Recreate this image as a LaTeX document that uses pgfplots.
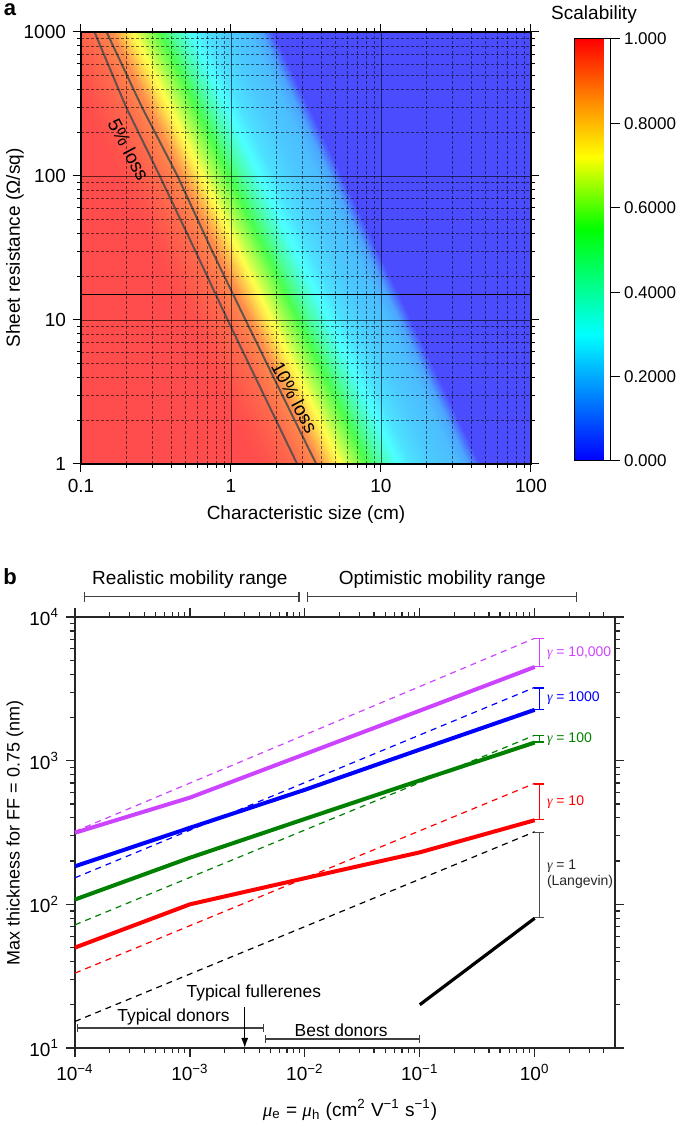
\documentclass[border=0pt]{standalone}
\usepackage{fontspec}
\setmainfont{Liberation Sans}
\newfontfamily\gfont{Liberation Serif}
\usepackage{pgfplots}
\pgfplotsset{compat=1.18}
\usetikzlibrary{arrows.meta}
\definecolor{mag}{RGB}{204,68,255}
\definecolor{myblue}{RGB}{0,0,255}
\definecolor{mygreen}{RGB}{0,128,0}
\definecolor{myred}{RGB}{255,0,0}
\newcommand\fa{\fontsize{9.5}{11}\selectfont}
\newcommand\fc{\fontsize{8.5}{10}\selectfont}
\newcommand\fb{\fontsize{9}{10.5}\selectfont}
\newcommand\fs{\fontsize{7}{8}\selectfont}
\begin{document}
\begin{tikzpicture}[x=1pt,y=1pt]
\path[use as bounding box] (0,0) rectangle (342.5,561);
% ---------------- panel a ----------------
\begin{axis}[
  at={(40.5pt,329pt)}, anchor=south west,
  scale only axis, width=225pt, height=216pt,
  xmode=log, ymode=log,
  xmin=0.1, xmax=100, ymin=1, ymax=1000,
  xtick={0.1,1,10,100}, xticklabels={0.1,1,10,100},
  ytick={1,10,100,1000}, yticklabels={1,10,100,1000},
  minor xtick={0.2,0.3,0.4,0.5,0.6,0.7,0.8,0.9,2,3,4,5,6,7,8,9,20,30,40,50,60,70,80,90},
  minor ytick={2,3,4,5,6,7,8,9,20,30,40,50,60,70,80,90,200,300,400,500,600,700,800,900},
  grid=both,
  major grid style={black, opacity=0.6, line width=0.45pt},
  minor grid style={black, opacity=0.55, line width=0.4pt, dash pattern=on 1.5pt off 1pt},
  axis on top,
  tick align=outside, major tick length=4pt, minor tick length=2pt,
  axis line style={line width=0.6pt},
  tick style={line width=0.5pt, black},
  tick label style={font=\fa},
  colormap={scal}{rgb255(0cm)=(0,0,255) rgb255(3cm)=(0,255,255) rgb255(5.5cm)=(0,255,0) rgb255(7.2cm)=(255,255,0) rgb255(8.5cm)=(255,140,0) rgb255(10cm)=(255,0,0)},
  point meta min=0, point meta max=1,
  colorbar,
  colorbar shift/.style={},
  colorbar style={
    at={(parent axis.south east)}, anchor=south west, xshift=22pt, yshift=1.5pt,
    scale only axis, width=18pt, height=211pt,
    ytick={0,0.2,0.4,0.6,0.8,1},
    yticklabels={0.000,0.2000,0.4000,0.6000,0.8000,1.000},
    yticklabel style={font=\fc, xshift=-1.5pt},
    ytick pos=right, yticklabel pos=right,
    tick align=outside, major tick length=4.5pt,
    tick style={line width=0.5pt, black},
    axis line style={line width=0.5pt},
  },
]
\addplot[surf, shader=interp, opacity=0.7, mesh/cols=17, mesh/rows=4,
  point meta=\thisrow{S}] table[x=L, y=R] {
L R S
0.1 1 1
1.413 1 1
1.778 1 0.99
2.780 1 0.95
3.864 1 0.90
4.467 1 0.82
5.012 1 0.75
6.310 1 0.65
8.035 1 0.55
10.0 1 0.42
12.59 1 0.31
15.85 1 0.25
22.39 1 0.21
31.62 1 0.19
38.02 1 0.15
45.71 1 0
2512 1 0
0.03467 10 1
0.4899 10 1
0.6165 10 0.99
0.9639 10 0.95
1.340 10 0.90
1.549 10 0.82
1.738 10 0.75
2.188 10 0.65
2.786 10 0.55
3.467 10 0.42
4.365 10 0.31
5.496 10 0.25
7.763 10 0.21
10.96 10 0.19
13.18 10 0.15
15.85 10 0
871.0 10 0
0.01202 100 1
0.1699 100 1
0.2138 100 0.99
0.3342 100 0.95
0.4646 100 0.90
0.5371 100 0.82
0.6026 100 0.75
0.7587 100 0.65
0.9660 100 0.55
1.202 100 0.42
1.514 100 0.31
1.906 100 0.25
2.692 100 0.21
3.802 100 0.19
4.571 100 0.15
5.496 100 0
302.0 100 0
0.004169 1000 1
0.0589 1000 1
0.07412 1000 0.99
0.1159 1000 0.95
0.1611 1000 0.90
0.1862 1000 0.82
0.2089 1000 0.75
0.2630 1000 0.65
0.3350 1000 0.55
0.4169 1000 0.42
0.5248 1000 0.31
0.6607 1000 0.25
0.9334 1000 0.21
1.318 1000 0.19
1.585 1000 0.15
1.906 1000 0
104.7 1000 0
};
\addplot[black, line width=0.7pt] coordinates {(0.1,15) (100,15)};
\addplot[black!70, line width=1pt, opacity=0.85] coordinates {(2.76,1) (1.66,3) (0.95,10) (0.58,30) (0.335,100) (0.2,300) (0.123,1000)};
\addplot[black!70, line width=1pt, opacity=0.85] coordinates {(3.7,1) (2.2,3) (1.25,10) (0.75,30) (0.44,100) (0.255,300) (0.148,1000)};
\node[font=\fa, rotate=-62] at (axis cs:0.208,152) {5\% loss};
\node[font=\fa, rotate=-62] at (axis cs:2.66,2.9) {10\% loss};
\end{axis}
\node[font=\fontsize{11}{12}\selectfont\bfseries] at (5,556) {a};
\node[font=\fa] at (297,553.5) {Scalability};
\node[font=\fa] at (153,303.5) {Characteristic size (cm)};
\node[font=\fa, rotate=90] at (7.5,437) {Sheet resistance (Ω/sq)};
% ---------------- panel b ----------------
\begin{axis}[
  at={(37.5pt,37pt)}, anchor=south west,
  scale only axis, width=270pt, height=215.5pt,
  xmode=log, ymode=log,
  xmin=0.0001, xmax=5, ymin=10, ymax=10000,
  xtick={0.0001,0.001,0.01,0.1,1},
  xticklabels={10\textsuperscript{−4},10\textsuperscript{−3},10\textsuperscript{−2},10\textsuperscript{−1},10\textsuperscript{0}},
  ytick={10,100,1000,10000},
  yticklabels={10\textsuperscript{1},10\textsuperscript{2},10\textsuperscript{3},10\textsuperscript{4}},
  minor xtick={0.0002,0.0003,0.0004,0.0005,0.0006,0.0007,0.0008,0.0009,0.002,0.003,0.004,0.005,0.006,0.007,0.008,0.009,0.02,0.03,0.04,0.05,0.06,0.07,0.08,0.09,0.2,0.3,0.4,0.5,0.6,0.7,0.8,0.9,2,3,4},
  minor ytick={20,30,40,50,60,70,80,90,200,300,400,500,600,700,800,900,2000,3000,4000,5000,6000,7000,8000,9000},
  tick align=outside, major tick length=4.5pt, minor tick length=2.5pt,
  axis line style={line width=0.8pt, black!85},
  tick style={line width=0.6pt, black!85},
  tick label style={font=\fa},
  clip=false,
]
% dashed lines
\addplot[mag, line width=0.6pt, dash pattern=on 3pt off 2.5pt] coordinates {(0.0001,322) (1,7110)};
\addplot[myblue, line width=0.6pt, dash pattern=on 3pt off 2.5pt] coordinates {(0.0001,153) (1,3236)};
\addplot[mygreen, line width=0.6pt, dash pattern=on 3pt off 2.5pt] coordinates {(0.0001,72) (1,1503)};
\addplot[myred, line width=0.6pt, dash pattern=on 3pt off 2.5pt] coordinates {(0.0001,33.2) (1,695)};
\addplot[black, line width=0.6pt, dash pattern=on 3pt off 2.5pt] coordinates {(0.0001,15.3) (1,320)};
% solid lines
\addplot[mag, line width=2pt] coordinates {(0.0001,315) (0.001,553) (0.01,1110) (0.1,2228) (1,4487)};
\addplot[myblue, line width=2pt] coordinates {(0.0001,184) (0.001,341) (0.01,627) (0.1,1194) (1,2259)};
\addplot[mygreen, line width=2pt] coordinates {(0.0001,108) (0.001,211) (0.01,393) (0.1,728) (1,1337)};
\addplot[myred, line width=2pt] coordinates {(0.0001,50) (0.001,100) (0.01,152) (0.1,230) (1,385)};
\addplot[black, line width=1.6pt] coordinates {(0.1,20) (1,80)};
% gamma brackets
\addplot[mag, line width=0.6pt, {Bar[width=5pt]}-{Bar[width=5pt]}] coordinates {(1.1,4487) (1.1,7110)};
\addplot[myblue, line width=0.6pt, {Bar[width=5pt]}-{Bar[width=5pt]}] coordinates {(1.1,2259) (1.1,3236)};
\addplot[mygreen, line width=0.6pt, {Bar[width=5pt]}-{Bar[width=5pt]}] coordinates {(1.1,1337) (1.1,1503)};
\addplot[myred, line width=0.6pt, {Bar[width=5pt]}-{Bar[width=5pt]}] coordinates {(1.1,385) (1.1,695)};
\addplot[black!70, line width=0.6pt, {Bar[width=5pt]}-{Bar[width=5pt]}] coordinates {(1.1,80) (1.1,320)};
\node[font=\fs, mag, anchor=west, inner sep=1pt] at (axis cs:1.22,5648) {{\gfont\itshape γ} = 10,000};
\node[font=\fs, myblue, anchor=west, inner sep=1pt] at (axis cs:1.22,2704) {{\gfont\itshape γ} = 1000};
\node[font=\fs, mygreen, anchor=west, inner sep=1pt] at (axis cs:1.22,1418) {{\gfont\itshape γ} = 100};
\node[font=\fs, myred, anchor=west, inner sep=1pt] at (axis cs:1.22,517) {{\gfont\itshape γ} = 10};
\node[font=\fs, black!85, anchor=west, align=left, inner sep=1pt] at (axis cs:1.22,162) {{\gfont\itshape γ} = 1\\(Langevin)};
% mobility ranges
\addplot[black!75, line width=0.6pt, {Bar[width=5pt]}-{Bar[width=5pt]}] coordinates {(0.00012,13800) (0.009,13800)};
\addplot[black!75, line width=0.6pt, {Bar[width=5pt]}-{Bar[width=5pt]}] coordinates {(0.0104,13800) (2.35,13800)};
\node[font=\fa] at (axis cs:0.001,18100) {Realistic mobility range};
\node[font=\fa] at (axis cs:0.157,18100) {Optimistic mobility range};
\addplot[black!75, line width=0.6pt, {Bar[width=4pt]}-{Bar[width=4pt]}] coordinates {(0.000104,13.8) (0.0044,13.8)};
\addplot[black!75, line width=0.6pt, {Bar[width=4pt]}-{Bar[width=4pt]}] coordinates {(0.0045,11.56) (0.1,11.56)};
\addplot[black, line width=0.6pt, -{Latex[length=5pt,width=3.5pt]}] coordinates {(0.003,19.3) (0.003,10)};
\node[font=\fontsize{8.7}{10}\selectfont] at (axis cs:0.0036,24.2) {Typical fullerenes};
\node[font=\fontsize{8.7}{10}\selectfont] at (axis cs:0.00072,16.4) {Typical donors};
\node[font=\fontsize{8.7}{10}\selectfont] at (axis cs:0.0207,13.3) {Best donors};
\end{axis}
\node[font=\fontsize{11}{12}\selectfont\bfseries] at (5,272.5) {b};
\node[font=\fb, rotate=90] at (7.5,144.5) {Max thickness for FF = 0.75 (nm)};
\node[font=\fa] at (175,6) {{\gfont\itshape μ}\textsubscript{e} = {\gfont\itshape μ}\textsubscript{h} (cm\textsuperscript{2} V\textsuperscript{−1} s\textsuperscript{−1})};
\end{tikzpicture}
\end{document}
